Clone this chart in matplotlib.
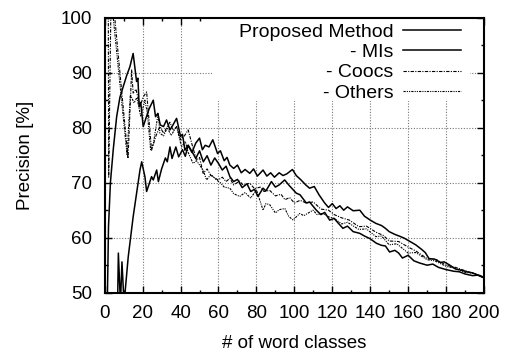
import matplotlib
matplotlib.use("Agg")
import matplotlib.pyplot as plt
from matplotlib.patches import Rectangle
from matplotlib.ticker import MultipleLocator

plt.rcParams['font.family'] = ['Liberation Sans', 'DejaVu Sans']

# ----- data -----
pm_x = [1, 2, 3, 4.5, 6.3, 8, 9.8, 11.6, 13.3, 15, 16.8, 17.5, 18.2, 19, 20.3, 22, 23.5,
        25.6, 26.8, 28, 29.3, 31, 32.6, 34.4, 36, 37.9, 40, 41, 42.3, 44, 46.6, 48, 50,
        52, 54, 56, 58, 60, 62, 64, 66, 68, 70, 72.5, 75, 77, 79, 80.8, 83.5, 85, 87.9,
        90, 92, 94.9, 97, 101, 103, 106.3, 108, 111.6, 114, 116, 118.6, 121, 123, 125.6,
        128, 131, 134.4, 137, 140, 143.2, 146, 148, 150.2, 153, 155, 157, 160, 163, 166,
        170, 173, 176, 180, 184, 187, 190, 194, 197, 200]
pm_y = [40, 62, 70, 76, 82, 85.5, 87.5, 89.5, 91.1, 93.5, 88.4, 89, 83.8, 84.6, 80.2, 82,
        83.5, 85, 82, 82.6, 80.5, 80.2, 81.4, 79.6, 80.5, 81.7, 78.4, 78.8, 75.9, 76.8,
        75.3, 74.4, 75.8, 73.8, 74.9, 73.2, 74.5, 73.5, 72.3, 73, 71.1, 70.2, 70.6, 69.1,
        69.8, 68.4, 68.8, 67.5, 69, 68.5, 70.2, 69.2, 69.6, 70.5, 69.6, 68.1, 67.8, 66.3,
        66.5, 65, 64.2, 64.6, 63.2, 63.5, 62.7, 61.7, 62.1, 61.1, 60.8, 60.3, 59.8, 59,
        58.6, 58.5, 57.4, 57.7, 57.2, 56.3, 56.8, 55.8, 55.4, 55, 55.2, 54.6, 54.2, 53.9,
        53.8, 53.4, 53.1, 53.2, 52.7]

mi_x = [6.8, 7.2, 8.3, 9.1, 10.2, 12.4, 15, 18.6, 19.5, 21.2, 22.1, 24.7, 25.6, 27.4,
        28.3, 30, 32, 33, 34.4, 35.5, 37.5, 39, 41, 42.5, 44, 46, 48, 50, 51.5, 53, 55,
        57, 59.5, 61, 63, 64.5, 66, 68, 70, 72, 74, 76.5, 78.5, 80.5, 83.5, 85.5, 87.5,
        89.5, 92, 94, 96, 99, 101, 103.5, 106, 108, 110.5, 113, 116, 118, 120, 122, 124,
        126, 128, 131, 134.5, 137, 140, 143, 146, 148, 150, 153, 156, 158, 161, 164, 167,
        169, 171, 174, 177, 179, 182, 185, 188, 191, 194, 196, 200]
mi_y = [48, 57.2, 48, 55.6, 48, 56.5, 63.8, 72.3, 73.8, 71.1, 68.4, 71.1, 70.5, 72.3,
        70.2, 72.5, 74.5, 73.8, 76.5, 74.4, 76.5, 74.7, 76, 74.8, 76.8, 75.5, 77.2, 78.1,
        76, 76.8, 76.5, 77.8, 75.3, 75.8, 74, 74.6, 73.2, 72.6, 73.2, 71.8, 72.4, 71.7,
        72.5, 71.2, 72.3, 71.2, 71.8, 71, 71.8, 71.3, 71.6, 72.4, 71.3, 70.5, 69.6, 69,
        69.3, 67.8, 66.3, 65.5, 66.2, 65.3, 65.8, 65, 65.6, 64.9, 65, 63.9, 63.2, 62.6,
        62.2, 61.7, 61.1, 60.6, 60.2, 59.9, 59.3, 58.7, 57.9, 57.3, 56.2, 56.1, 55.5,
        55.6, 55, 54.3, 54.1, 53.8, 53.6, 53.3, 52.7]

co_x = [1, 1.9, 2.1, 3.2, 5.3, 12.3, 14.2, 15, 16.5, 18.6, 20.3, 22.1, 24.7, 27, 29.1,
        31, 34.4, 36, 38, 40, 42, 44, 46, 48.4, 50, 51.9, 54, 56, 59.8, 62, 64, 66, 68,
        71.2, 73, 76.5, 79, 82, 84, 87, 90, 93, 95, 97.5, 100, 103, 106.3, 110, 114, 118,
        121, 125, 129, 134, 138, 143, 147, 150, 155, 160, 164, 170, 175, 180, 185, 190,
        195, 200]
co_y = [100, 100, 71, 100, 100, 74.4, 90.5, 86.3, 87, 83.8, 85.6, 86.5, 75.9, 78.5, 80.2,
        79, 81, 79.5, 80.2, 77.8, 78.5, 79.6, 77, 74.1, 74.6, 71.7, 72.5, 71.3, 70.5, 71,
        70.2, 70.8, 69.6, 70.3, 69.5, 69.9, 68.9, 69.2, 68.4, 68.6, 67.6, 67.9, 66.9,
        67.3, 66.3, 66.8, 66.3, 66.5, 65.2, 65, 64.2, 63.6, 63.2, 62, 62.1, 61, 60.4,
        59.4, 59.3, 58.3, 57.6, 56.2, 56, 55, 54.6, 54, 53.4, 52.8]

ot_x = [1, 4.5, 11.8, 13.5, 15.5, 17, 19, 21.2, 22.5, 24.2, 25.6, 28.2, 29.1, 31, 33,
        35, 37.9, 40.5, 42.5, 44, 46.6, 48.4, 51.9, 53.7, 56, 58.9, 61, 63, 66, 68, 71.2,
        74, 77, 80, 83.5, 85, 87, 90, 92, 95, 97, 99.3, 102.8, 105, 109.8, 112, 115, 118,
        121, 125, 128, 134, 138, 143, 146, 150, 154, 160, 164, 170, 174, 180, 185, 190,
        195, 200]
ot_y = [100, 100, 75, 86, 84.5, 85.5, 82, 85, 82.6, 76, 77, 82.6, 79, 78.5, 80, 78.6,
        80.2, 76.5, 77.5, 75.5, 73.5, 74, 72.3, 70.5, 71.5, 70.5, 70, 69.2, 69, 68, 67.5,
        68.2, 67.2, 68.7, 65, 66.2, 66, 64.5, 65.1, 65.3, 63.9, 63.2, 64.4, 64, 65, 64.2,
        64.4, 63.8, 63.5, 62.5, 62.8, 61.5, 61.6, 60.2, 60.3, 58.7, 58.9, 57.2, 57.3, 56,
        55.8, 54.8, 54.4, 53.7, 53.5, 52.9]

labels = ['Proposed Method', '- MIs', '- Coocs', '- Others']

fig = plt.figure(figsize=(5.11, 3.54), dpi=100)
ax = fig.add_axes([0.2049, 0.1732, 0.7423, 0.7768])

ax.plot(pm_x, pm_y, color='black', lw=1.1, label=labels[0])
ax.plot(mi_x, mi_y, color='black', lw=1.1, label=labels[1])
ax.plot(co_x, co_y, color='black', lw=0.8, dashes=(3, 1.2, 1, 1.2), label=labels[2])
ax.plot(ot_x, ot_y, color='black', lw=0.8, dashes=(2, 1, 1, 1, 1, 1), label=labels[3])

ax.set_xlim(0, 200)
ax.set_ylim(50, 100)
ax.xaxis.set_major_locator(MultipleLocator(20))
ax.xaxis.set_minor_locator(MultipleLocator(10))
ax.yaxis.set_major_locator(MultipleLocator(10))
ax.yaxis.set_minor_locator(MultipleLocator(5))
ax.tick_params(which='both', direction='in', top=True, right=True, labelsize=13.5,
               width=1.0, color='black')
ax.tick_params(which='major', length=5, pad=9)
ax.tick_params(which='minor', length=2.5)
ax.grid(True, which='major', color='#777777', lw=0.8, ls=(0, (1, 1.5)))
ax.set_axisbelow(True)
for s in ax.spines.values():
    s.set_linewidth(1.5)

ax.set_xlabel('# of word classes', fontsize=13.5, labelpad=9)
ax.set_ylabel('Precision [%]', fontsize=13.5, labelpad=19)

# opaque key area (hides the grid like the original key box)
ax.add_patch(Rectangle((0.283, 0.697), 0.68, 0.303, transform=ax.transAxes,
                       facecolor='white', edgecolor='none', zorder=1))

leg = ax.legend(loc='upper right', bbox_to_anchor=(0.956, 1.0), borderaxespad=0,
                markerfirst=False, fontsize=14, handlelength=3.0, handletextpad=0.5,
                labelspacing=0.13, borderpad=0.3, frameon=False)
leg.set_zorder(5)

plt.savefig('out.png', dpi=100)
